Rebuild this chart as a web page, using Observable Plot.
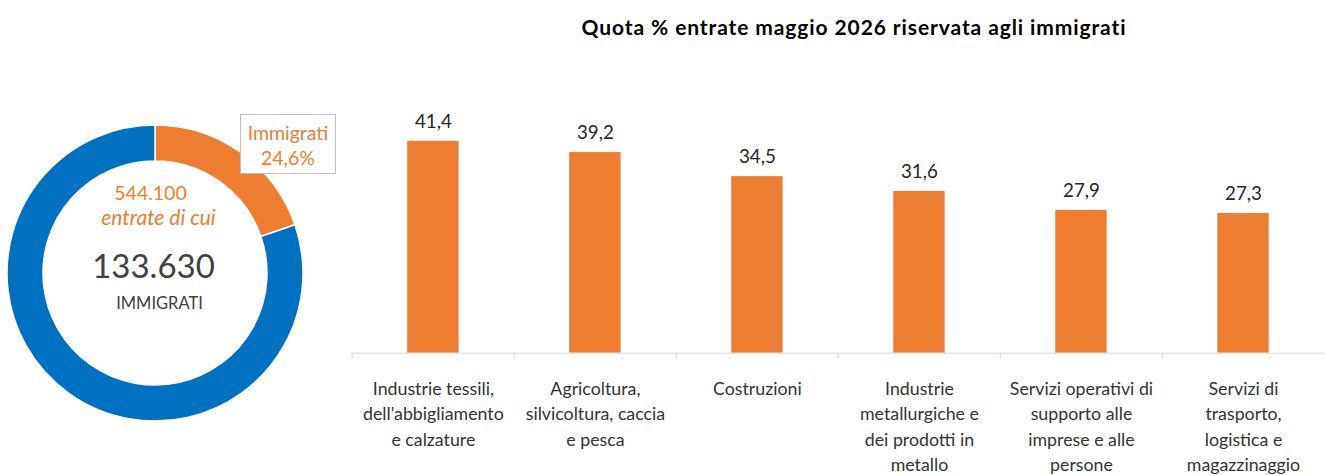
<!DOCTYPE html>
<html><head><meta charset="utf-8">
<script src="https://cdn.jsdelivr.net/npm/d3@7"></script>
<script src="https://cdn.jsdelivr.net/npm/@observablehq/plot@0.6"></script>
<style>
html,body{margin:0;padding:0;background:#fff;overflow:hidden}
#wrap{position:relative;width:1325px;height:475px;overflow:hidden;font-family:Lato,sans-serif}
#title{position:absolute;left:340px;width:1028px;top:13px;text-align:center;font-weight:bold;font-size:21px;letter-spacing:0.9px;color:#000;line-height:28px}
#donut{position:absolute;left:5px;top:123px}
#bars{position:absolute;left:340px;top:0px}
#callout{position:absolute;left:240px;top:114px;width:96px;height:60px;box-sizing:border-box;border:1px solid #bfbfbf;background:#fff;color:#ED7D31;font-size:19.5px;line-height:25px;text-align:center;padding-top:5px}
</style></head><body>
<div id="wrap">
  <div id="title"></div>
  <div id="donut"></div>
  <div id="bars"></div>
  <div id="callout"></div>
</div>
<script>
// ---- Data ----
const titleText = "Quota % entrate maggio 2026 riservata agli immigrati";
const categories = ["tessili", "agricoltura", "costruzioni", "metallurgiche", "servizi operativi", "trasporto"];
const categoryLabels = [
  "Industrie tessili,\ndell'abbigliamento\ne calzature",
  "Agricoltura,\nsilvicoltura, caccia\ne pesca",
  "Costruzioni",
  "Industrie\nmetallurgiche e\ndei prodotti in\nmetallo",
  "Servizi operativi di\nsupporto alle\nimprese e alle\npersone",
  "Servizi di\ntrasporto,\nlogistica e\nmagazzinaggio"
];
const shares = [41.4, 39.2, 34.5, 31.6, 27.9, 27.3];

const donutGroups = ["Immigrati", "Totale entrate"];
const donutValues = [133630, 544100];
const totalEntrateLabel = "544.100";
const entrateSubLabel = "entrate di cui";
const immigratiLabel = "133.630";
const immigratiCaption = "IMMIGRATI";
const calloutLines = ["Immigrati", "24,6%"];

const ORANGE = "#ED7D31", BLUE = "#0070C0";

document.getElementById("title").textContent = titleText;
document.getElementById("callout").innerHTML = calloutLines.join("<br>");

// ---- Bar chart ----
const barData = categories.map((c, i) => ({category: c, label: categoryLabels[i], share: shares[i]}));
const fmt = v => d3.format(".1f")(v).replace(".", ",");
const barsWidth = 997, barsLeft = 11;
const step = (barsWidth - barsLeft) / categories.length;

const bars = Plot.plot({
  width: barsWidth, height: 475,
  marginLeft: barsLeft, marginRight: 0, marginTop: 98, marginBottom: 118,
  style: {fontFamily: "Lato, sans-serif", background: "transparent", overflow: "visible"},
  x: {domain: categories, paddingInner: 0.68, paddingOuter: 0.34, axis: null},
  y: {domain: [0, 50], axis: null},
  marks: [
    Plot.barY(barData, {x: "category", y: "share", fill: ORANGE}),
    Plot.ruleY([0], {stroke: "#d9d9d9", strokeWidth: 1}),
    Plot.ruleX(barData, {x: "category", y1: 0, y2: -1.2, dx: -step / 2, stroke: "#d9d9d9"}),
    Plot.text(barData, {x: "category", y: "share", text: d => fmt(d.share), dy: -20, fontSize: 19, fill: "#262626"}),
    Plot.text(barData, {x: "category", y: 0, text: "label", lineAnchor: "top", dy: 24, fontSize: 18, lineHeight: 1.43, fill: "#333"})
  ]
});
document.getElementById("bars").appendChild(bars);

// ---- Donut ----
const donutData = donutGroups.map((g, i) => ({group: g, value: donutValues[i]}));
const donutColors = [ORANGE, BLUE];
const donutMark = (index, scales, values, dims) => {
  const cx = dims.width / 2, cy = dims.height / 2;
  const pie = d3.pie().sort(null).value(d => d.value)(donutData);
  const arc = d3.arc().innerRadius(112).outerRadius(148);
  const g = d3.create("svg:g").attr("transform", `translate(${cx},${cy})`);
  g.selectAll("path").data(pie).join("path")
    .attr("d", arc)
    .attr("fill", (d, i) => donutColors[i])
    .attr("stroke", "#fff").attr("stroke-width", 1.5);
  return g.node();
};

const donut = Plot.plot({
  width: 300, height: 300, margin: 0,
  style: {fontFamily: "Lato, sans-serif", background: "transparent", overflow: "visible"},
  x: {axis: null}, y: {axis: null},
  marks: [
    donutMark,
    Plot.text([totalEntrateLabel], {frameAnchor: "middle", dx: -5, dy: -80, fontSize: 19.5, fill: ORANGE}),
    Plot.text([entrateSubLabel], {frameAnchor: "middle", dx: 3, dy: -55, fontSize: 21, fontStyle: "italic", fill: ORANGE}),
    Plot.text([immigratiLabel], {frameAnchor: "middle", dx: -2, dy: -6, fontSize: 33, fill: "#404040"}),
    Plot.text([immigratiCaption], {frameAnchor: "middle", dx: 4, dy: 30, fontSize: 16.5, fill: "#404040"})
  ]
});
document.getElementById("donut").appendChild(donut);
</script>
</body></html>
